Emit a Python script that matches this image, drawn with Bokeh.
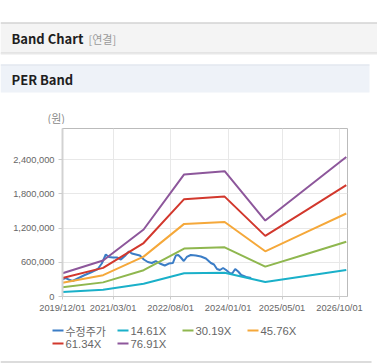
from datetime import datetime
import pandas as pd
from bokeh.plotting import figure
from bokeh.layouts import column
from bokeh.models import Range1d, FixedTicker, NumeralTickFormatter, DatetimeTickFormatter
from bokeh.core.properties import value
from bokeh.embed import file_html
from bokeh.resources import INLINE

# ---------------- data ----------------
band_dates = ["2019-12-01", "2020-12-01", "2021-12-01", "2022-12-01",
              "2023-12-01", "2024-12-01", "2025-12-01", "2026-12-01"]
band_14_61 = [78000, 120000, 224000, 407000, 418000, 253000, 359000, 465000]
band_30_19 = [161000, 248000, 462000, 841000, 863000, 524000, 743000, 962000]
band_45_76 = [243000, 375000, 700000, 1275000, 1309000, 794000, 1126000, 1457000]
band_61_34 = [326000, 503000, 939000, 1709000, 1754000, 1064000, 1509000, 1954000]
band_76_91 = [409000, 631000, 1177000, 2143000, 2200000, 1334000, 1892000, 2450000]

price_dates = ["2019-12-01", "2019-12-28", "2020-01-24", "2020-03-01", "2020-04-15",
               "2020-06-09", "2020-08-11", "2020-10-14", "2020-11-19", "2020-12-25",
               "2021-01-22", "2021-02-27", "2021-04-04", "2021-05-10", "2021-06-15",
               "2021-07-21", "2021-08-17", "2021-09-22", "2021-10-28", "2021-12-03",
               "2022-01-08", "2022-02-13", "2022-03-21", "2022-04-26", "2022-06-09",
               "2022-07-16", "2022-08-21", "2022-09-17", "2022-10-09", "2022-11-01",
               "2022-11-28", "2022-12-25", "2023-01-30", "2023-03-16", "2023-05-01",
               "2023-06-15", "2023-07-30", "2023-08-27", "2023-09-23", "2023-10-20",
               "2023-11-17", "2023-12-14", "2024-01-15", "2024-02-07", "2024-03-05",
               "2024-04-01", "2024-04-28", "2024-06-12", "2024-07-27"]
price_values = [299000, 325000, 299000, 272000, 316000,
                369000, 421000, 483000, 579000, 738000,
                694000, 685000, 685000, 650000, 711000,
                790000, 755000, 738000, 720000, 650000,
                606000, 588000, 623000, 579000, 544000,
                579000, 588000, 720000, 729000, 685000,
                623000, 694000, 729000, 720000, 702000,
                667000, 588000, 562000, 483000, 465000,
                500000, 465000, 413000, 404000, 483000,
                439000, 378000, 342000, 325000]

x_tick_dates = ["2019-12-01", "2021-03-01", "2022-08-01", "2024-01-01", "2025-05-01", "2026-10-01"]
y_ticks = [0, 600000, 1200000, 1800000, 2400000]

series_names = ["수정주가", "14.61X", "30.19X", "45.76X", "61.34X", "76.91X"]
series_colors = ["#3b7dc6", "#1ab0c9", "#8fb74f", "#f5a83a", "#d2382d", "#8d579b"]

# ---------------- layout ----------------
W = 377
LAT = value("Liberation Sans")
KR = value("Noto Sans CJK KR")

def blank(h, y0, y1):
    f = figure(width=W, height=h, x_range=Range1d(0, W), y_range=Range1d(y1, y0),
               x_axis_type=None, y_axis_type=None, toolbar_location=None,
               output_backend="svg", min_border=0, outline_line_color=None,
               background_fill_color="white", border_fill_color="white", title=None,
               frame_align=False)
    f.grid.visible = False
    return f

# header
HB = 124
hdr = blank(HB, 0, HB)
hdr.quad(left=[0], right=[W], top=[22], bottom=[52], fill_color="#f4f4f4", line_color=None)
hdr.segment(x0=[0], x1=[W], y0=[22.5], y1=[22.5], line_color="#c2c2c2", line_width=1)
hdr.segment(x0=[0], x1=[W], y0=[52.5], y1=[52.5], line_color="#cfcfcf", line_width=1)
hdr.segment(x0=[0], x1=[W], y0=[53.5], y1=[53.5], line_color="#e8e8e8", line_width=1)
hdr.quad(left=[0], right=[369], top=[64], bottom=[92], fill_color="#eef2f8", line_color=None)
hdr.segment(x0=[0], x1=[369], y0=[64.5], y1=[64.5], line_color="#dde2ea", line_width=1)
hdr.text(x=[11], y=[38], text=["Band Chart"], text_font=KR, text_font_style="bold",
         text_font_size="13px", text_color="#1e1e1e", text_baseline="middle")
hdr.text(x=[88], y=[38], text=["[연결]"], text_font=KR, text_font_size="11px",
         text_color="#9a9a9a", text_baseline="middle")
hdr.text(x=[11], y=[79], text=["PER Band"], text_font=KR, text_font_style="bold",
         text_font_size="13px", text_color="#1e1e1e", text_baseline="middle")
hdr.text(x=[47], y=[117], text=["(원)"], text_font=KR, text_font_size="11px",
         text_color="#8a8a8a", text_baseline="middle")

# chart
ch = figure(width=W, height=316 - HB, x_axis_type="datetime",
            x_range=Range1d(datetime(2019, 12, 1), datetime(2026, 12, 12)),
            y_range=Range1d(0, 2950000), toolbar_location=None, output_backend="svg",
            min_border_left=62, min_border_right=30, min_border_top=128 - HB,
            min_border_bottom=20,
            outline_line_color="#bbbbbb", background_fill_color="white",
            border_fill_color="white", title=None, frame_align=False)

bd = pd.to_datetime(band_dates)
pdts = pd.to_datetime(price_dates)
ch.line(pdts, price_values, line_color=series_colors[0], line_width=2)
for vals, col in zip([band_14_61, band_30_19, band_45_76, band_61_34, band_76_91], series_colors[1:]):
    ch.line(bd, vals, line_color=col, line_width=2)

xt = [pd.Timestamp(d).value // 10**6 for d in x_tick_dates]
ch.xaxis.ticker = FixedTicker(ticks=xt)
fmt = "%Y/%m/%d"
ch.xaxis.formatter = DatetimeTickFormatter(milliseconds=fmt, seconds=fmt, minsec=fmt, minutes=fmt,
                                           hourmin=fmt, hours=fmt, days=fmt, months=fmt, years=fmt)
ch.yaxis.ticker = FixedTicker(ticks=y_ticks)
ch.yaxis.formatter = NumeralTickFormatter(format="0,0")

for ax in (ch.xaxis, ch.yaxis):
    ax.major_label_text_font = "Liberation Sans"
    ax.major_label_text_font_size = "9.3px"
    ax.major_label_text_color = "#666666"
    ax.major_tick_in = 0
    ax.minor_tick_in = 0
    ax.minor_tick_out = 0
    ax.major_tick_line_color = "#cccccc"
ch.xaxis.axis_line_color = "#c8c8c8"
ch.xaxis.major_tick_out = 3
ch.xaxis.major_label_standoff = 3
ch.yaxis.axis_line_color = "#d2d2d2"
ch.yaxis.axis_line_width = 2
ch.yaxis.major_tick_out = 4
ch.yaxis.major_label_standoff = 4
ch.xgrid.grid_line_color = "#e8e8e8"
ch.ygrid.grid_line_color = "#e8e8e8"

# legend
lg = blank(48, 316, 364)
leg_x = [52, 117, 182, 247, 52, 117]
leg_y = [330, 330, 330, 330, 343, 343]
lg.segment(x0=leg_x, x1=[x + 11 for x in leg_x], y0=leg_y, y1=leg_y,
           line_color=series_colors, line_width=2)
lg.text(x=[leg_x[0] + 13], y=[leg_y[0]], text=[series_names[0]], text_font=KR,
        text_font_size="11px", text_color="#666666", text_baseline="middle")
lg.text(x=[x + 13 for x in leg_x[1:]], y=leg_y[1:], text=series_names[1:], text_font=LAT,
        text_font_size="11.3px", text_color="#666666", text_baseline="middle")
lg.segment(x0=[0], x1=[371], y0=[361.5], y1=[361.5], line_color="#dcdcdc", line_width=2)

layout = column(hdr, ch, lg, spacing=0,
                styles={"position": "absolute", "left": "0px", "top": "0px"})

open("out.html", "w").write(file_html(layout, INLINE))
